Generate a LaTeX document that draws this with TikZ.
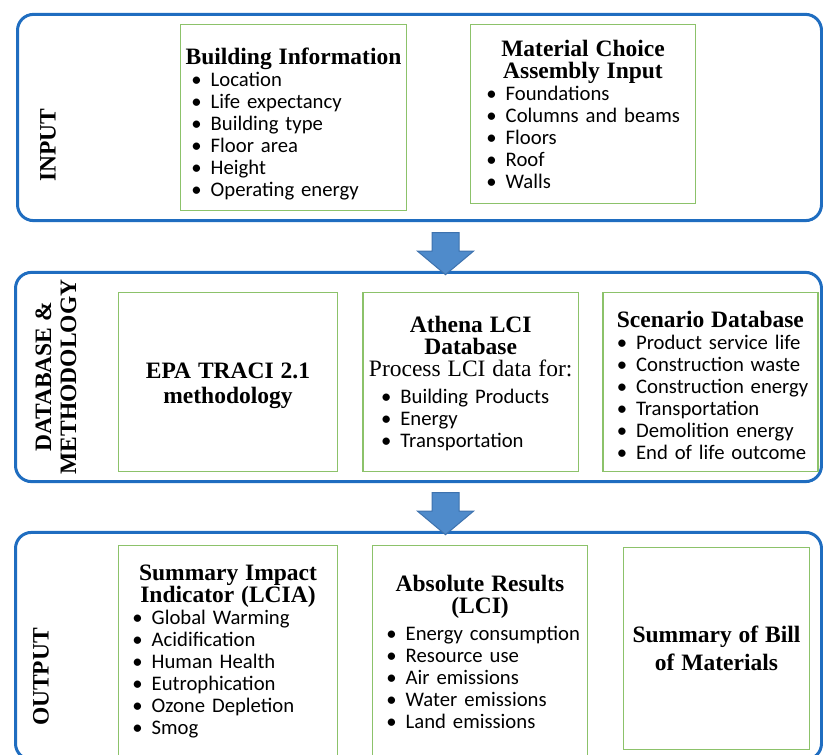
\documentclass[tikz,border=0pt]{standalone}
\usepackage{fontspec}
\setmainfont{Liberation Serif}
\setsansfont{Carlito}
\usepackage{tikz}
\usetikzlibrary{shapes.arrows,positioning,calc}

\definecolor{panelblue}{HTML}{1F6DC0}
\definecolor{boxgreen}{HTML}{8CC26A}
\definecolor{arrowfill}{HTML}{4F8BCB}
\definecolor{arrowline}{HTML}{3D72AE}

\newlength{\itmindent}
\newcommand{\hd}[1]{\makebox[\linewidth][c]{\rmfamily\bfseries\fontsize{23.5bp}{22bp}\selectfont #1}}
\newcommand{\itm}[1]{\makebox[\linewidth][l]{\hspace*{\itmindent}\textbullet\hspace{9bp}#1}}
% taller first line pushes the text block down
\newcommand{\drop}[1]{\rule{0pt}{#1}}

\begin{document}
\begin{tikzpicture}[x=1bp, y=1bp]
% STYLES
\tikzset{%
    panel/.style={%
draw=panelblue,
line width=3bp,
rounded corners=16bp,
inner sep=0pt
                 },
    side/.style={%
rotate=90,
align=center,
font=\rmfamily\bfseries\fontsize{23.5bp}{25bp}\selectfont
                },
    infobox/.style={%
draw=boxgreen,
line width=1.5bp,
inner sep=0pt,
align=center,
font=\sffamily\fontsize{20.7bp}{22bp}\selectfont
                   },
    bulletindent/.code={\setlength{\itmindent}{#1}},
    bulletindent=14bp,
    flow/.style={%
single arrow,
draw=arrowline,
fill=arrowfill,
line width=1bp,
rotate=-90,
inner xsep=0pt,
inner ysep=13bp,
minimum height=42bp,
single arrow head extend=14.5bp,
single arrow tip angle=100
                }
             }
\useasboundingbox (0,0) rectangle (823,755);

% Draw panels
\node [panel, minimum width=807, minimum height=207] (input) at (419.5,637.5) {};
\node [panel, minimum width=809, minimum height=210] (method) at (418.5,378) {};
\node [panel, minimum width=809, minimum height=228] (output) at (418.5,109) {};

% Panel labels
\node [side] (inputlbl) at (48,610) {INPUT};
\node [side] (methodlbl) at (56,378) {DATABASE \&\\METHODOLOGY};
\node [side] (outputlbl) at (41,78) {OUTPUT};

% Input boxes
\node [infobox, minimum width=227, minimum height=187, text width=227, bulletindent=11bp] (building) at (293.5,637.5)
  {\drop{30bp}\hd{Building Information}\\\itm{Location}\\\itm{Life expectancy}\\\itm{Building type}\\\itm{Floor area}\\\itm{Height}\\\itm{Operating energy}};
\node [infobox, minimum width=226, minimum height=180, text width=226, bulletindent=16bp] (material) at (583,641)
  {\hd{Material Choice}\\\hd{Assembly Input}\\\itm{Foundations}\\\itm{Columns and beams}\\\itm{Floors}\\\itm{Roof}\\\itm{Walls}};

% Database boxes
\node [infobox, minimum width=220, minimum height=180, text width=220] (traci) at (228,373)
  {\drop{24bp}\hd{EPA TRACI 2.1}\\[3bp]\hd{methodology}};
\node [infobox, minimum width=216, minimum height=180, text width=216, bulletindent=18bp, right=24bp of traci] (athena)
  {\drop{20bp}\hd{Athena LCI}\\\hd{Database}\\\makebox[\linewidth][c]{\rmfamily\fontsize{23.5bp}{22bp}\selectfont Process LCI data for:}\\[5bp]\itm{Building Products}\\\itm{Energy}\\\itm{Transportation}};
\node [infobox, minimum width=216, minimum height=180, text width=216, right=23bp of athena] (scenario)
  {\drop{24bp}\hd{Scenario Database}\\\itm{Product service life}\\\itm{Construction waste}\\\itm{Construction energy}\\\itm{Transportation}\\\itm{Demolition energy}\\\itm{End of life outcome}};

% Output boxes
\node [infobox, minimum width=220, minimum height=213, text width=220] (impact) at (228,103.5)
  {\hd{Summary Impact}\\\hd{Indicator (LCIA)}\\\itm{Global Warming}\\\itm{Acidification}\\\itm{Human Health}\\\itm{Eutrophication}\\\itm{Ozone Depletion}\\\itm{Smog}};
\node [infobox, minimum width=216, minimum height=213, text width=216] (absolute) at (480,103.5)
  {\hd{Absolute Results}\\\hd{(LCI)}\\[5bp]\itm{Energy consumption}\\\itm{Resource use}\\\itm{Air emissions}\\\itm{Water emissions}\\\itm{Land emissions}};
\node [infobox, minimum width=187, minimum height=203, text width=187] (bill) at (716.5,106.5)
  {\hd{Summary of Bill}\\[6bp]\hd{of Materials}};

% Draw the flow between panels
\node [flow] (flowA) at ($(input.south)!0.5!(method.north)+(26.5,-1.5)$) {};
\node [flow] (flowB) at ($(method.south)!0.5!(output.north)+(27,-1)$) {};
\end{tikzpicture}
\end{document}
